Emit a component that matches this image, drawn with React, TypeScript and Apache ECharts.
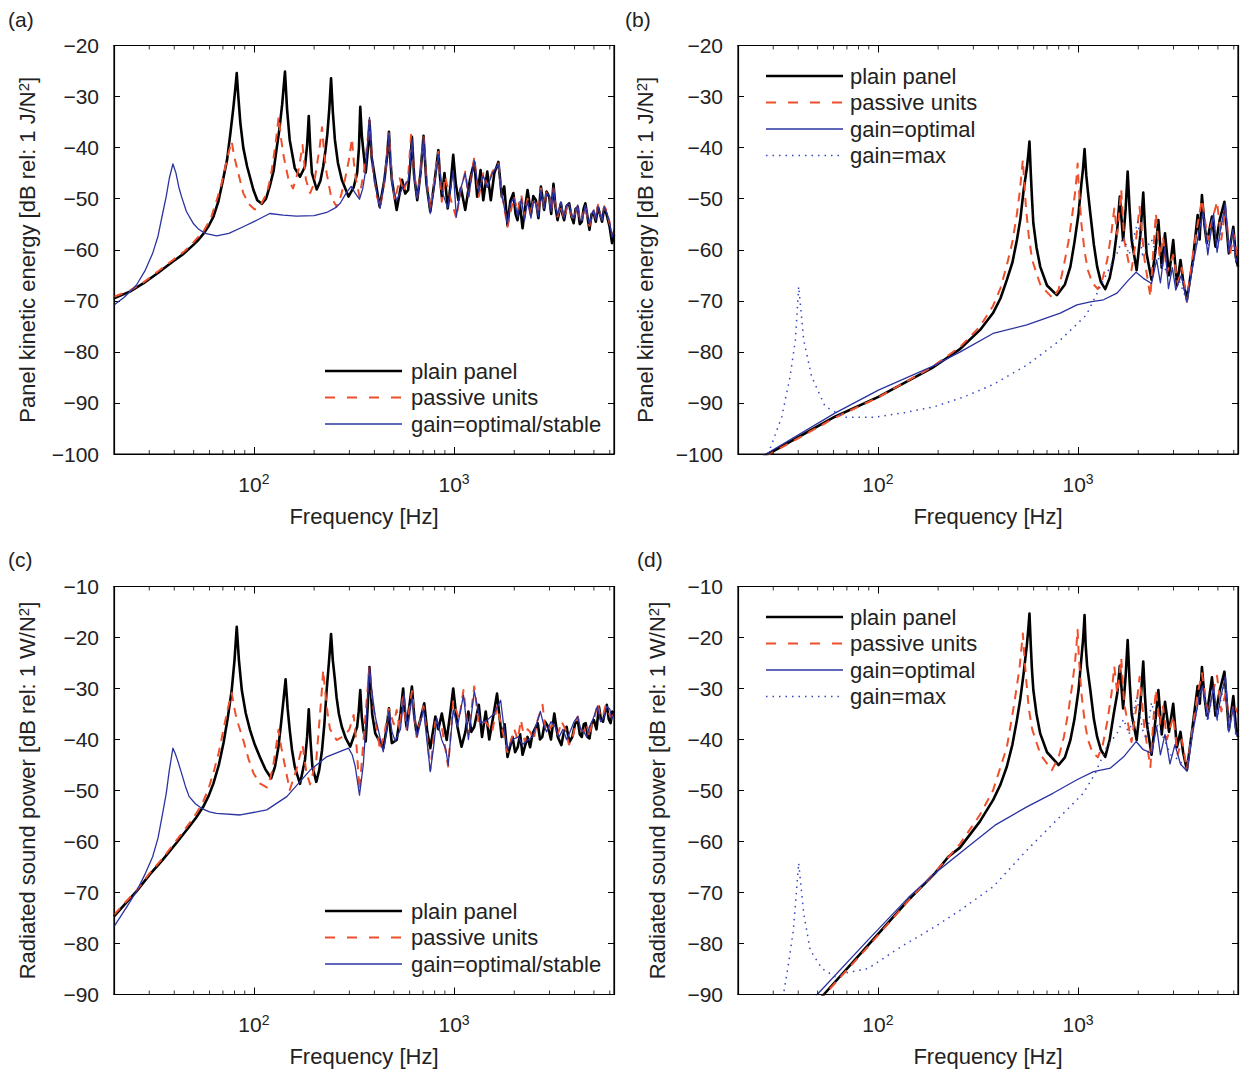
import React, { useEffect, useRef } from "react";
import * as echarts from "echarts";

type Pt = [number, number];

// ---------- axes / labels ----------
const FREQ_RANGE: Pt = [20, 6300];
const MAJOR_FREQS = [100, 1000];
const MINOR_FREQS = [30, 40, 50, 60, 70, 80, 90, 200, 300, 400, 500, 600, 700, 800, 900, 2000, 3000, 4000, 5000, 6000];
const Y_RANGES: Pt[] = [[-100, -20], [-100, -20], [-90, -10], [-90, -10]];
const PANEL_LETTERS = ["(a)", "(b)", "(c)", "(d)"];
const Y_NAMES = [
  "Panel kinetic energy [dB rel: 1 J/N{s|2}]",
  "Panel kinetic energy [dB rel: 1 J/N{s|2}]",
  "Radiated sound power [dB rel: 1 W/N{s|2}]",
  "Radiated sound power [dB rel: 1 W/N{s|2}]",
];
const X_NAME = "Frequency [Hz]";
const LEGEND_3 = ["plain panel", "passive units", "gain=optimal/stable"];
const LEGEND_4 = ["plain panel", "passive units", "gain=optimal", "gain=max"];

// ---------- data: [frequency Hz, dB] ----------
const aPlain: Pt[] = [[20,-69.5],[24,-68.2],[28,-66.6],[33,-64.6],[39.4,-62.3],[44.5,-60.8],[49.7,-59.1],[53,-58.0],[56.4,-56.7],[59.5,-55.3],[62.8,-53.5],[66.5,-50.5],[70.1,-46.3],[73.5,-42.3],[76.3,-37.2],[78.8,-32.5],[80.6,-28.8],[82.1,-25.4],[83.6,-30.0],[85.6,-35.2],[88.5,-40.0],[92.5,-43.7],[99.5,-48.3],[104,-50.3],[109.5,-51.0],[115,-50.0],[120,-47.6],[125.5,-44.5],[129.6,-40.5],[134,-36.5],[138.5,-31.5],[143,-25.1],[146.5,-32.5],[151,-38.5],[160,-44.0],[170,-45.7],[180,-43.7],[184.5,-39.5],[188,-33.8],[191.5,-40.5],[195,-45.0],[206,-48.2],[215,-46.5],[222,-43.7],[228,-40.5],[233,-37.2],[238,-32.5],[243,-26.4],[248,-33.0],[254,-38.5],[263,-43.0],[275,-46.3],[297,-49.6],[315,-47.8],[328,-45.0],[335,-40.0],[340,-32.0],[346,-37.5],[352,-40.5],[362,-44.9],[372,-40.0],[378,-34.8],[388,-42.0],[404,-46.3],[425,-51.6],[449,-46.3],[462,-42.0],[473,-36.9],[480,-42.0],[489,-46.3],[517,-52.2],[550,-46.3],[570,-49.0],[590,-48.3],[604,-43.5],[616,-37.9],[632,-45.5],[655,-50.3],[680,-45.0],[704,-37.7],[728,-47.0],[761,-52.5],[800,-46.5],[835,-40.5],[850,-45.5],[869,-49.6],[896,-45.0],[930,-51.9],[960,-47.5],[991,-41.4],[1020,-47.0],[1052,-50.3],[1083,-47.9],[1138,-52.2],[1201,-46.3],[1262,-42.8],[1305,-49.6],[1357,-44.4],[1400,-50.3],[1466,-44.7],[1527,-50.3],[1590,-45.0],[1666,-42.8],[1733,-49.6],[1782,-47.6],[1850,-55.2],[1910,-50.5],[1980,-48.9],[2030,-53.0],[2075,-54.2],[2130,-50.8],[2200,-55.8],[2270,-51.5],[2330,-48.3],[2424,-52.9],[2490,-49.5],[2565,-50.3],[2640,-53.8],[2717,-47.6],[2820,-52.2],[2900,-48.6],[2988,-49.6],[3060,-53.0],[3140,-47.1],[3210,-51.5],[3290,-54.2],[3420,-50.9],[3480,-53.0],[3550,-54.2],[3650,-51.5],[3760,-50.9],[3860,-53.5],[3960,-54.8],[4050,-52.0],[4150,-51.6],[4250,-55.0],[4350,-54.5],[4440,-52.0],[4530,-50.9],[4640,-53.5],[4750,-56.1],[4870,-53.0],[4990,-52.9],[5110,-54.5],[5240,-51.6],[5360,-53.0],[5490,-54.5],[5630,-51.8],[5770,-52.9],[5990,-55.5],[6160,-58.7],[6300,-57.1]];
const aPassive: Pt[] = [[20,-69.2],[24,-68.0],[28,-66.4],[33,-64.3],[39.4,-62.0],[45,-60.3],[50,-58.5],[56.4,-56.2],[61,-53.8],[65.2,-50.3],[68.5,-47.5],[71.8,-44.0],[75,-40.8],[77.5,-38.8],[79.5,-41.5],[82,-43.7],[88.5,-48.9],[94,-51.0],[101,-52.1],[108,-51.3],[116,-48.9],[121,-46.0],[125,-42.4],[129,-38.5],[133,-33.9],[137,-38.5],[141,-41.8],[149,-46.3],[157,-48.0],[167,-44.4],[171,-42.0],[175,-39.5],[182,-46.3],[191,-48.9],[200,-47.0],[206,-43.7],[213,-40.0],[219,-36.0],[225,-41.5],[231,-45.0],[243,-49.6],[259,-51.6],[272,-49.5],[285,-46.3],[298,-42.5],[309,-38.2],[316,-43.0],[324,-46.3],[337,-49.6],[355,-44.5],[368,-39.5],[378,-34.6],[392,-44.0],[412,-49.6],[428,-51.6],[450,-46.5],[473,-37.2],[490,-46.0],[507,-50.3],[535,-46.0],[560,-48.6],[590,-45.7],[610,-37.5],[632,-45.0],[655,-49.6],[680,-45.0],[704,-37.9],[728,-46.5],[761,-51.9],[800,-46.0],[835,-40.8],[869,-50.6],[903,-45.7],[954,-49.6],[1027,-53.8],[1080,-48.3],[1138,-44.7],[1183,-49.6],[1262,-41.9],[1330,-49.6],[1400,-45.0],[1466,-47.6],[1555,-44.7],[1666,-43.1],[1733,-49.0],[1850,-55.5],[1990,-49.6],[2080,-52.5],[2170,-49.3],[2250,-53.5],[2330,-50.0],[2424,-53.5],[2490,-50.0],[2565,-50.8],[2640,-53.0],[2717,-48.0],[2820,-51.8],[2900,-48.8],[2988,-49.2],[3060,-52.5],[3140,-48.0],[3210,-51.0],[3290,-53.5],[3420,-51.2],[3550,-54.0],[3650,-51.8],[3760,-51.2],[3860,-53.2],[3960,-54.2],[4150,-51.0],[4250,-54.5],[4350,-54.0],[4530,-51.5],[4640,-53.8],[4750,-55.3],[4870,-53.2],[4990,-52.4],[5110,-54.0],[5240,-51.2],[5360,-52.8],[5490,-54.0],[5630,-51.5],[5770,-52.2],[5990,-54.8],[6160,-57.0],[6300,-56.5]];
const aOptimal: Pt[] = [[20,-70.8],[22.5,-69.3],[25.9,-66.9],[28.5,-64.2],[31.2,-60.7],[33.2,-57.3],[35,-52.9],[36.5,-49.5],[37.8,-46.0],[39.4,-43.2],[40.8,-45.0],[42.2,-47.8],[43.5,-49.6],[46,-52.5],[49.7,-54.8],[53,-56.0],[57,-56.8],[65.2,-57.3],[75,-56.8],[88.5,-55.5],[100,-54.5],[120,-52.9],[140,-53.2],[163,-53.4],[200,-53.3],[231,-52.7],[255,-51.8],[270,-50.9],[290,-48.8],[306,-47.6],[322,-49.0],[337,-50.1],[350,-48.0],[360,-45.0],[370,-39.0],[378,-34.1],[388,-41.5],[400,-46.5],[427,-51.9],[450,-46.0],[462,-42.0],[473,-37.2],[482,-43.0],[495,-48.0],[517,-50.3],[560,-47.5],[590,-46.5],[604,-43.0],[616,-38.3],[632,-45.5],[655,-50.0],[680,-45.0],[704,-37.9],[728,-47.0],[761,-52.9],[800,-47.0],[835,-41.3],[869,-48.5],[930,-51.8],[991,-44.5],[1027,-53.5],[1080,-48.0],[1138,-45.0],[1183,-49.6],[1262,-42.5],[1330,-48.6],[1400,-45.5],[1466,-47.8],[1555,-45.0],[1666,-43.3],[1733,-49.2],[1850,-55.0],[1910,-51.0],[1990,-49.9],[2080,-53.5],[2170,-50.0],[2250,-54.3],[2330,-50.5],[2424,-53.8],[2490,-50.5],[2565,-51.0],[2640,-53.5],[2717,-48.3],[2820,-52.0],[2900,-49.0],[2988,-49.4],[3060,-52.5],[3140,-47.8],[3210,-51.2],[3290,-53.2],[3420,-50.6],[3550,-53.8],[3650,-51.2],[3760,-51.0],[3860,-53.0],[3960,-53.9],[4150,-51.2],[4250,-54.2],[4350,-54.3],[4530,-51.3],[4640,-53.5],[4750,-55.0],[4870,-53.0],[4990,-52.2],[5110,-54.2],[5240,-51.5],[5360,-53.0],[5490,-54.2],[5630,-51.6],[5770,-52.6],[5990,-54.5],[6160,-57.5],[6300,-56.0]];

const bPlain: Pt[] = [[20,-103.3],[28.3,-100],[61,-92.7],[100.6,-88.8],[186,-83.2],[258,-79.4],[324,-75.7],[376,-72.4],[410,-69.5],[441,-65.9],[470,-62.5],[495,-58.1],[515,-54.0],[535,-48.3],[555,-44.0],[565,-41.2],[572,-38.8],[580,-44.5],[588,-49.5],[598,-54.8],[620,-59.5],[647,-63.3],[700,-67.0],[784,-68.9],[860,-66.8],[916,-63.3],[960,-58.5],[1006,-52.9],[1040,-47.0],[1060,-44.0],[1078,-40.3],[1100,-45.5],[1120,-48.5],[1152,-52.9],[1200,-59.0],[1246,-63.3],[1300,-66.3],[1368,-67.7],[1440,-65.5],[1508,-61.4],[1570,-56.0],[1617,-49.6],[1680,-58.1],[1730,-52.0],[1770,-44.7],[1810,-52.0],[1853,-58.1],[1963,-64.0],[2050,-57.0],[2118,-48.8],[2160,-55.5],[2200,-60.7],[2330,-65.9],[2440,-60.0],[2520,-54.2],[2620,-63.5],[2720,-56.8],[2850,-65.0],[2990,-58.1],[3120,-67.0],[3250,-62.0],[3350,-66.0],[3500,-69.8],[3750,-62.0],[3960,-53.2],[4050,-58.0],[4160,-49.3],[4280,-55.0],[4400,-58.7],[4670,-53.5],[4860,-59.4],[5100,-54.2],[5390,-50.6],[5670,-60.7],[5970,-55.5],[6150,-61.5],[6300,-63.3]];
const bPassive: Pt[] = [[20,-103.5],[28.3,-100.2],[61,-92.9],[100.6,-88.9],[186,-83.0],[258,-79.0],[324,-75.0],[376,-71.0],[410,-67.5],[441,-63.0],[470,-58.5],[495,-53.0],[512,-48.5],[522,-45.0],[530,-42.4],[538,-46.5],[550,-52.0],[568,-57.5],[590,-62.0],[650,-67.0],[748,-69.5],[800,-67.8],[850,-63.0],[895,-58.5],[930,-54.0],[965,-49.0],[985,-45.5],[995,-43.1],[1010,-48.0],[1040,-55.0],[1080,-60.5],[1120,-64.0],[1180,-66.5],[1256,-67.7],[1330,-65.5],[1400,-62.0],[1470,-56.5],[1518,-51.9],[1570,-57.0],[1644,-48.3],[1700,-58.0],[1790,-62.5],[1850,-64.0],[1950,-58.0],[2030,-51.6],[2150,-62.0],[2300,-69.2],[2380,-60.0],[2450,-52.9],[2560,-61.5],[2660,-57.5],[2780,-64.5],[2990,-61.0],[3150,-66.5],[3300,-63.5],[3500,-70.2],[3760,-60.5],[3960,-55.0],[4160,-50.2],[4450,-58.0],[4700,-54.0],[4950,-50.6],[5200,-58.0],[5450,-52.0],[5750,-61.0],[6000,-57.0],[6300,-62.0]];
const bOptimal: Pt[] = [[20,-103],[27.9,-99.9],[61,-92.0],[100.6,-87.5],[186,-82.9],[258,-80.0],[376,-76.4],[555,-74.7],[815,-72.4],[988,-70.8],[1152,-70.2],[1340,-69.8],[1566,-68.5],[1790,-65.9],[1950,-64.4],[2120,-65.6],[2330,-66.6],[2470,-62.0],[2580,-66.5],[2720,-59.4],[2830,-67.6],[2960,-63.5],[3080,-67.9],[3280,-65.0],[3500,-70.2],[3750,-63.0],[4010,-56.8],[4220,-52.5],[4450,-61.0],[4760,-52.9],[4950,-60.5],[5150,-56.0],[5450,-50.9],[5670,-60.5],[5950,-56.0],[6150,-62.5],[6300,-61.3]];
const bMax: Pt[] = [[25,-110],[28.3,-100],[33.1,-92.7],[36.4,-84.9],[38.7,-77.7],[40.2,-67.2],[42.6,-77.7],[46.7,-84.9],[54.5,-90.7],[68.5,-92.8],[96.9,-92.8],[136.5,-91.9],[193,-90.7],[270,-88.8],[376,-86.4],[555,-82.6],[815,-77.7],[1099,-72.8],[1246,-68.5],[1394,-64.6],[1566,-60.7],[1690,-57.4],[1800,-61.0],[1990,-54.5],[2100,-61.0],[2330,-58.0],[2470,-61.0],[2650,-63.5],[2900,-64.5],[3200,-66.0],[3500,-70.0],[3750,-62.5],[4010,-57.0],[4220,-53.0],[4450,-60.0],[4760,-53.5],[4950,-60.0],[5150,-56.5],[5450,-51.5],[5670,-60.0],[5950,-56.5],[6150,-62.0],[6300,-61.0]];

const cPlain: Pt[] = [[20,-74.7],[22.8,-72.2],[25.9,-69.8],[30,-66.6],[35,-63.6],[41,-60.3],[47.5,-57.1],[51.5,-55.3],[55.8,-53.2],[59.5,-51.0],[62.8,-48.6],[66.8,-45.0],[70.5,-40.7],[74,-35.8],[77.5,-30.3],[80,-24.5],[82.1,-17.9],[84.2,-24.5],[87,-30.3],[91,-34.8],[95.6,-38.1],[101,-41.0],[107,-43.4],[114,-45.8],[122,-47.6],[127.5,-45.3],[132.7,-41.4],[137,-36.5],[140.8,-32.0],[144,-28.2],[147.5,-34.0],[151,-38.1],[155,-42.0],[160,-45.3],[170,-48.7],[180,-44.0],[184.5,-39.5],[188,-34.1],[192,-40.5],[196,-45.3],[205,-48.3],[212,-46.0],[219,-42.1],[225,-37.0],[231,-30.3],[237,-25.0],[243,-19.3],[248,-24.5],[254,-28.3],[259,-31.8],[266,-35.0],[275,-37.5],[288,-39.8],[303,-41.4],[328,-37.5],[334,-34.5],[340,-30.3],[346,-35.5],[352,-38.1],[362,-40.4],[371,-33.0],[378,-25.8],[390,-35.0],[404,-38.8],[443,-41.7],[460,-38.0],[473,-33.9],[480,-38.0],[489,-40.7],[517,-40.1],[540,-35.0],[557,-30.0],[567,-34.5],[579,-37.5],[600,-33.0],[616,-29.6],[633,-35.5],[650,-38.8],[680,-36.0],[710,-32.9],[735,-38.5],[761,-41.7],[807,-35.5],[835,-38.0],[869,-34.9],[919,-40.1],[960,-34.5],[991,-30.0],[1040,-37.5],[1090,-41.4],[1140,-38.5],[1180,-34.5],[1220,-38.5],[1262,-37.5],[1330,-33.2],[1380,-39.5],[1440,-34.5],[1500,-40.0],[1570,-35.5],[1640,-31.0],[1730,-39.5],[1790,-37.0],[1850,-43.4],[1960,-39.5],[2020,-42.5],[2080,-41.5],[2140,-39.0],[2200,-43.0],[2330,-39.5],[2400,-41.5],[2470,-38.8],[2620,-36.8],[2690,-40.0],[2760,-39.5],[2850,-36.5],[2950,-37.5],[3050,-40.0],[3170,-34.9],[3300,-39.5],[3440,-41.1],[3540,-38.5],[3650,-37.5],[3770,-40.5],[3900,-39.5],[4020,-37.0],[4150,-36.2],[4250,-39.0],[4350,-39.5],[4450,-37.0],[4550,-36.8],[4650,-39.5],[4750,-39.8],[4870,-37.0],[5000,-36.2],[5150,-38.0],[5300,-33.6],[5420,-36.0],[5550,-36.5],[5680,-34.5],[5800,-33.2],[5930,-36.0],[6060,-36.8],[6180,-34.5],[6300,-34.9]];
const cPassive: Pt[] = [[20,-74.4],[22.8,-71.9],[25.9,-69.6],[30,-66.3],[35,-63.3],[41,-59.8],[47.5,-56.5],[51.5,-54.5],[55.8,-52.2],[59.5,-49.5],[62.8,-46.5],[66.8,-42.5],[70.5,-38.0],[74,-34.0],[77.5,-30.9],[80,-34.0],[82,-36.0],[88.5,-40.1],[94,-43.8],[99.5,-46.6],[107,-48.6],[116,-49.4],[121,-47.5],[125,-45.0],[129,-41.5],[132.7,-38.1],[137,-41.5],[141,-44.0],[151,-49.9],[163,-46.0],[169,-43.5],[175,-41.1],[183,-46.5],[191,-48.8],[205,-44.0],[213,-36.0],[218,-31.0],[222,-26.4],[227,-30.5],[232,-34.0],[240,-38.0],[259,-40.1],[285,-39.2],[300,-38.0],[315,-35.2],[324,-40.0],[337,-49.9],[350,-42.0],[365,-33.0],[378,-25.8],[393,-33.0],[410,-37.5],[427,-42.1],[450,-38.5],[473,-34.0],[500,-37.0],[517,-34.2],[535,-38.0],[557,-31.0],[579,-38.0],[616,-30.5],[650,-39.5],[704,-33.5],[730,-38.5],[761,-46.0],[807,-36.5],[869,-37.5],[935,-45.3],[991,-32.5],[1060,-36.0],[1115,-30.3],[1180,-39.0],[1262,-29.6],[1330,-37.0],[1440,-36.5],[1550,-38.5],[1640,-33.5],[1740,-38.0],[1850,-42.5],[2000,-38.0],[2080,-40.0],[2160,-36.2],[2260,-40.5],[2330,-38.0],[2400,-38.5],[2500,-40.0],[2600,-36.5],[2770,-33.2],[2850,-37.5],[2950,-38.5],[3100,-37.0],[3300,-39.0],[3450,-36.5],[3600,-38.0],[3750,-41.0],[3900,-40.0],[4020,-37.5],[4150,-35.5],[4300,-38.0],[4450,-38.5],[4600,-37.0],[4750,-39.5],[4900,-36.5],[5050,-35.5],[5220,-32.9],[5380,-35.5],[5550,-35.5],[5700,-33.5],[5850,-34.2],[6050,-35.5],[6300,-35.2]];
const cOptimal: Pt[] = [[20,-76.7],[23,-73.0],[25.9,-69.8],[28.5,-66.5],[31.2,-63.0],[33.2,-59.3],[35,-54.5],[36.5,-50.5],[37.8,-46.0],[39.4,-41.7],[40.5,-42.8],[41.5,-44.0],[43.5,-46.6],[45.5,-49.2],[47.5,-51.2],[51,-52.6],[54.8,-53.5],[60,-54.2],[65,-54.5],[85.6,-54.8],[116,-53.8],[146,-51.2],[191,-46.0],[231,-43.4],[297,-41.7],[310,-43.0],[321,-45.3],[337,-50.9],[352,-45.0],[366,-35.0],[378,-25.8],[390,-31.0],[404,-35.5],[443,-42.4],[460,-38.5],[473,-34.5],[490,-38.5],[508,-40.3],[540,-38.0],[563,-31.0],[585,-38.2],[616,-31.8],[655,-39.5],[704,-34.0],[761,-46.3],[790,-41.6],[820,-35.8],[869,-40.1],[910,-42.0],[935,-45.0],[991,-34.2],[1040,-37.5],[1115,-31.3],[1180,-40.0],[1262,-30.5],[1360,-36.8],[1466,-36.2],[1580,-35.0],[1710,-32.3],[1780,-38.0],[1850,-42.0],[1960,-40.0],[2100,-39.5],[2200,-41.0],[2300,-40.3],[2470,-39.5],[2580,-37.0],[2700,-34.5],[2800,-37.0],[2900,-38.5],[3050,-36.5],[3200,-37.5],[3350,-39.5],[3500,-38.0],[3650,-40.0],[3800,-38.5],[3980,-36.5],[4150,-35.5],[4300,-38.0],[4450,-38.5],[4600,-39.5],[4750,-37.5],[4950,-36.0],[5200,-33.5],[5400,-36.5],[5600,-35.8],[5800,-33.5],[6000,-34.0],[6150,-36.0],[6300,-35.0]];

const dPlain: Pt[] = [[45,-93.4],[53.4,-90.1],[89.4,-80.3],[142,-71.5],[193,-66.2],[225,-63.0],[257,-61.2],[323,-56.1],[376,-51.9],[410,-48.8],[441,-45.3],[470,-41.0],[495,-36.2],[515,-32.0],[535,-27.0],[555,-21.5],[564,-18.5],[572,-15.3],[580,-21.0],[588,-26.0],[598,-30.3],[620,-35.0],[647,-38.8],[700,-42.5],[800,-45.0],[860,-43.5],[916,-40.1],[960,-36.0],[1006,-30.3],[1040,-24.0],[1062,-20.0],[1078,-15.6],[1092,-21.5],[1110,-25.5],[1152,-30.3],[1200,-36.0],[1246,-39.5],[1300,-42.0],[1368,-43.4],[1440,-40.0],[1508,-35.0],[1570,-31.0],[1617,-25.6],[1680,-33.9],[1730,-27.5],[1770,-20.5],[1810,-28.5],[1853,-35.0],[1963,-40.1],[2050,-33.0],[2118,-24.7],[2160,-31.5],[2200,-36.5],[2330,-43.0],[2440,-36.0],[2520,-30.3],[2620,-39.0],[2720,-32.6],[2850,-38.5],[2990,-33.0],[3120,-41.5],[3250,-38.5],[3350,-42.5],[3500,-46.0],[3750,-37.0],[3960,-29.5],[4060,-33.0],[4160,-25.8],[4280,-31.5],[4400,-35.3],[4670,-27.8],[4860,-35.3],[5100,-30.5],[5390,-26.7],[5670,-38.1],[5970,-31.5],[6150,-37.5],[6300,-39.5]];
const dPassive: Pt[] = [[45,-93.6],[53.4,-90.3],[89.4,-80.6],[142,-71.6],[193,-66.0],[257,-60.5],[323,-54.8],[376,-50.0],[441,-41.5],[480,-33.0],[510,-26.0],[522,-22.0],[530,-19.2],[538,-23.0],[550,-28.0],[568,-34.0],[590,-38.0],[650,-43.0],[740,-46.0],[800,-43.5],[850,-39.5],[895,-34.5],[930,-30.0],[965,-25.0],[985,-21.0],[995,-18.5],[1010,-24.0],[1040,-31.0],[1080,-36.5],[1120,-40.0],[1180,-42.5],[1256,-43.5],[1330,-41.0],[1400,-36.5],[1470,-31.0],[1518,-25.7],[1570,-31.0],[1644,-24.0],[1700,-33.0],[1790,-37.5],[1850,-40.5],[1950,-34.0],[2030,-27.7],[2150,-38.0],[2300,-45.4],[2380,-36.0],[2450,-30.3],[2560,-37.0],[2660,-33.5],[2780,-40.0],[2990,-35.5],[3150,-43.0],[3300,-40.0],[3500,-45.8],[3760,-37.0],[3960,-31.0],[4160,-27.0],[4450,-35.0],[4700,-31.0],[4950,-27.5],[5200,-34.5],[5450,-31.0],[5750,-37.0],[6000,-33.0],[6300,-34.9]];
const dOptimal: Pt[] = [[42,-93.1],[49.5,-90.1],[89.4,-79.3],[142,-71.0],[193,-66.2],[283,-61.0],[385,-56.8],[555,-53.2],[753,-50.5],[988,-47.9],[1195,-46.3],[1452,-45.6],[1690,-43.4],[1950,-40.4],[2120,-42.0],[2330,-42.7],[2470,-37.5],[2580,-43.0],[2720,-39.0],[2880,-44.8],[3050,-41.0],[3250,-44.8],[3500,-46.2],[3750,-38.5],[4060,-30.9],[4200,-29.5],[4450,-36.0],[4760,-29.5],[4950,-36.0],[5150,-32.0],[5450,-27.6],[5670,-38.5],[5970,-33.5],[6150,-39.0],[6300,-38.7]];
const dMax: Pt[] = [[30,-98],[33.7,-90.1],[35.6,-84.5],[37.8,-77.4],[39,-70.8],[40.2,-64.2],[42.6,-74.1],[45.9,-81.3],[52.5,-84.9],[61.1,-86.5],[68.5,-85.8],[89.4,-84.9],[131,-80.6],[193,-76.7],[257,-73.5],[376,-68.9],[555,-61.7],[815,-55.1],[1065,-50.5],[1220,-46.6],[1394,-41.4],[1566,-38.8],[1690,-36.0],[1800,-39.0],[1963,-31.6],[2100,-38.0],[2200,-40.0],[2330,-32.7],[2470,-37.0],[2700,-40.0],[2900,-43.0],[3200,-44.0],[3500,-46.0],[3750,-38.0],[4060,-31.5],[4200,-30.0],[4450,-36.5],[4760,-30.0],[4950,-36.5],[5150,-32.5],[5450,-28.2],[5670,-38.0],[5970,-34.0],[6150,-39.5],[6300,-38.5]];

const PANEL_SERIES: Pt[][][] = [
  [aPlain, aPassive, aOptimal],
  [bPlain, bPassive, bOptimal, bMax],
  [cPlain, cPassive, cOptimal],
  [dPlain, dPassive, dOptimal, dMax],
];

// ---------- layout & styles ----------
const FONT = "'Liberation Sans', Arial, Helvetica, sans-serif";
const TXT = "#222";
const GRIDS = [
  { left: 114, top: 45.5, width: 500, height: 408.5 },
  { left: 738, top: 45.5, width: 500, height: 408.5 },
  { left: 114, top: 586.5, width: 500, height: 408 },
  { left: 738, top: 586.5, width: 500, height: 408 },
];
const Y_NAME_GAPS = [76, 82, 76, 70];
const LEGEND_POS = [
  { x: 325, y: 371 },
  { x: 766, y: 76 },
  { x: 325, y: 911 },
  { x: 766, y: 617 },
];
const LETTER_POS = [
  { x: 8, y: 19 },
  { x: 625, y: 19 },
  { x: 8, y: 559 },
  { x: 637, y: 559 },
];
const STYLES = [
  { color: "#000000", width: 2.6, type: "solid" as any },
  { color: "#ef4f2a", width: 2.0, type: [9, 7] as any },
  { color: "#2b33a0", width: 1.3, type: "solid" as any },
  { color: "#3546c0", width: 1.5, type: [1.5, 5] as any },
];

function fmtY(v: number) {
  return v < 0 ? "\u2212" + Math.abs(v) : String(v);
}
function fmtX(v: number) {
  for (const m of MAJOR_FREQS) {
    if (Math.abs(Math.log10(v) - Math.log10(m)) < 1e-6) {
      return "{b|10}{s|" + Math.round(Math.log10(m)) + "}";
    }
  }
  return "";
}

function buildOption() {
  const grid: any[] = [];
  const xAxis: any[] = [];
  const yAxis: any[] = [];
  const series: any[] = [];
  const graphic: any[] = [];

  GRIDS.forEach((g, i) => {
    const [yMin, yMax] = Y_RANGES[i];
    grid.push({ ...g, show: false, containLabel: false });
    const axLine = { show: true, onZero: false, lineStyle: { color: "#000", width: 1.2 } };
    xAxis.push({
      type: "log", logBase: 10, gridIndex: i, min: FREQ_RANGE[0], max: FREQ_RANGE[1], position: "bottom",
      axisLine: axLine,
      axisTick: { show: true, inside: true, length: 7, lineStyle: { color: "#000", width: 1 } },
      axisLabel: {
        formatter: fmtX, margin: 18, color: TXT, fontFamily: FONT,
        rich: {
          b: { fontSize: 21, color: TXT, fontFamily: FONT, lineHeight: 24 },
          s: { fontSize: 14, color: TXT, fontFamily: FONT, verticalAlign: "top", lineHeight: 16 },
        },
      },
      splitLine: { show: false },
      name: X_NAME, nameLocation: "middle", nameGap: 51,
      nameTextStyle: { fontSize: 22, color: TXT, fontFamily: FONT },
    });
    xAxis.push({
      type: "log", logBase: 10, gridIndex: i, min: FREQ_RANGE[0], max: FREQ_RANGE[1], position: "top",
      axisLine: axLine,
      axisTick: { show: true, inside: true, length: 7, lineStyle: { color: "#000", width: 1 } },
      axisLabel: { show: false },
      splitLine: { show: false },
    });
    yAxis.push({
      type: "value", gridIndex: i, min: yMin, max: yMax, interval: 10, position: "left",
      axisLine: axLine,
      axisTick: { show: true, inside: true, length: 6, lineStyle: { color: "#000", width: 1 } },
      axisLabel: { formatter: fmtY, margin: 15, fontSize: 21, color: TXT, fontFamily: FONT },
      splitLine: { show: false },
      name: Y_NAMES[i], nameLocation: "middle", nameGap: Y_NAME_GAPS[i],
      nameTextStyle: {
        fontSize: 22, color: TXT, fontFamily: FONT,
        rich: { s: { fontSize: 15, color: TXT, fontFamily: FONT, verticalAlign: "top", lineHeight: 16 } },
      },
    });
    yAxis.push({
      type: "value", gridIndex: i, min: yMin, max: yMax, interval: 10, position: "right",
      axisLine: axLine,
      axisTick: { show: true, inside: true, length: 6, lineStyle: { color: "#000", width: 1 } },
      axisLabel: { show: false },
      splitLine: { show: false },
    });

    const names = PANEL_SERIES[i].length === 3 ? LEGEND_3 : LEGEND_4;
    PANEL_SERIES[i].forEach((data, k) => {
      const st = STYLES[k];
      series.push({
        type: "line", name: names[k], data, xAxisIndex: 2 * i, yAxisIndex: 2 * i,
        symbol: "none", showSymbol: false, clip: true, silent: true,
        lineStyle: { color: st.color, width: st.width, type: st.type, cap: "butt", join: "round" },
        z: 2 + k,
      });
    });
    // minor log ticks (bottom + top)
    series.push({
      type: "scatter", xAxisIndex: 2 * i, yAxisIndex: 2 * i, silent: true, clip: false,
      data: MINOR_FREQS.map((f) => [f, yMin]),
      symbol: "rect", symbolSize: [1, 4], symbolOffset: [0, -2], itemStyle: { color: "#000" }, z: 10,
    });
    series.push({
      type: "scatter", xAxisIndex: 2 * i, yAxisIndex: 2 * i, silent: true, clip: false,
      data: MINOR_FREQS.map((f) => [f, yMax]),
      symbol: "rect", symbolSize: [1, 4], symbolOffset: [0, 2], itemStyle: { color: "#000" }, z: 10,
    });

    // legend box
    const lp = LEGEND_POS[i];
    names.forEach((nm, k) => {
      const st = STYLES[k];
      const y = lp.y + k * 26.5;
      graphic.push({
        type: "line", silent: true, z: 20,
        shape: { x1: lp.x, y1: y, x2: lp.x + 77, y2: y },
        style: {
          stroke: st.color, lineWidth: st.width,
          lineDash: Array.isArray(st.type) ? (k === 1 ? [10, 12] : st.type) : null,
        },
      });
      graphic.push({
        type: "text", silent: true, z: 20, x: lp.x + (i % 2 === 0 ? 86 : 84), y,
        style: { text: nm, fontSize: 22, fontFamily: FONT, fill: TXT, verticalAlign: "middle", align: "left" },
      });
    });
    const pl = LETTER_POS[i];
    graphic.push({
      type: "text", silent: true, x: pl.x, y: pl.y,
      style: { text: PANEL_LETTERS[i], fontSize: 21, fontFamily: FONT, fill: TXT, verticalAlign: "middle", align: "left" },
    });
    // frame
    graphic.push({
      type: "rect", silent: true, z: 15,
      shape: { x: g.left, y: g.top, width: g.width, height: g.height },
      style: { fill: "none", stroke: "#000", lineWidth: 1.2 },
    });
  });

  return {
    animation: false,
    backgroundColor: "#ffffff",
    textStyle: { fontFamily: FONT },
    grid, xAxis, yAxis, series, graphic,
  };
}

export default function App() {
  const ref = useRef<HTMLDivElement>(null);
  useEffect(() => {
    if (!ref.current) return;
    const chart = echarts.init(ref.current, null, { renderer: "svg" });
    chart.setOption(buildOption() as any);
    return () => chart.dispose();
  }, []);
  return (
    <div
      ref={ref}
      style={{ position: "absolute", left: 0, top: 0, width: 1245, height: 1072, background: "#fff" }}
    />
  );
}
